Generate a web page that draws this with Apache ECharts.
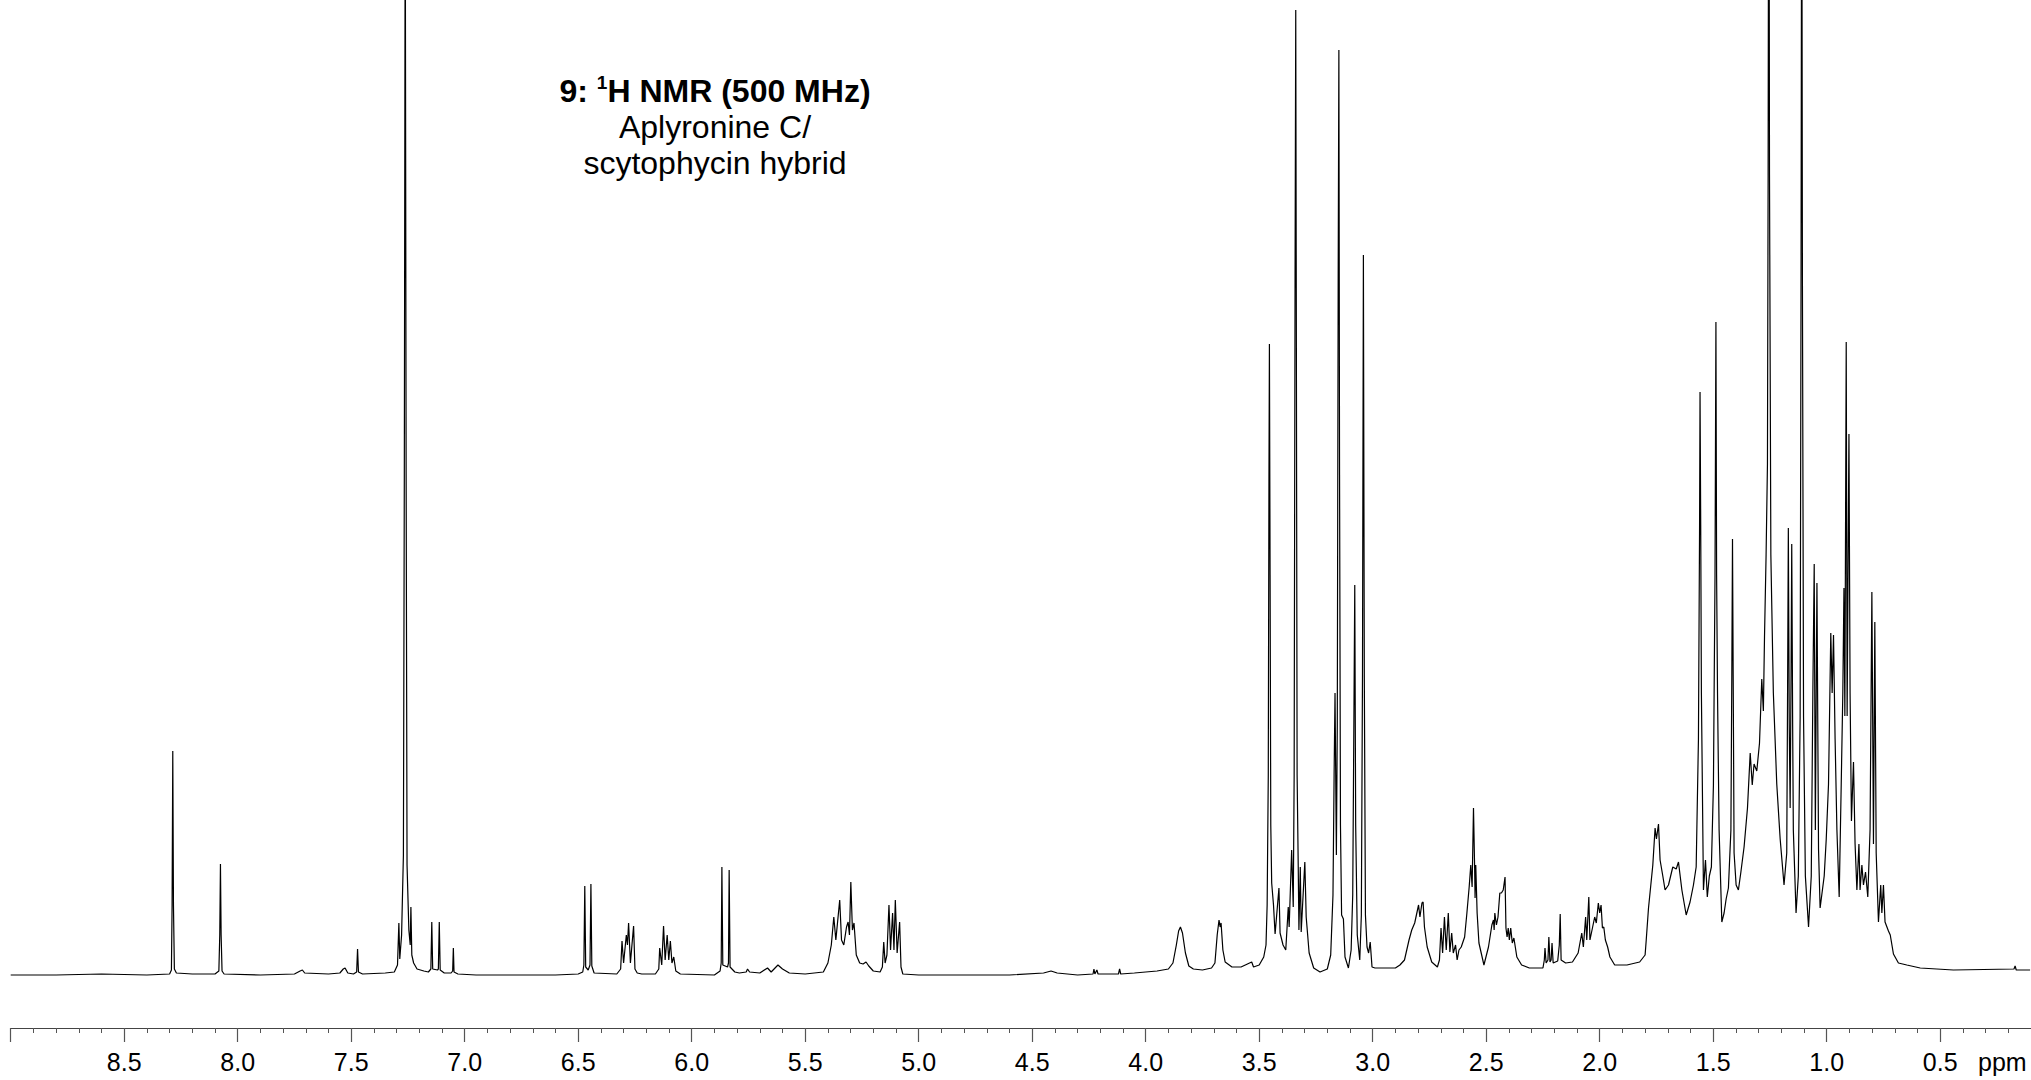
<!DOCTYPE html>
<html>
<head>
<meta charset="utf-8">
<script src="https://cdn.jsdelivr.net/npm/echarts@6/dist/echarts.min.js"></script>
<style>
html,body{margin:0;padding:0;background:#fff;}
#chart{width:2031px;height:1080px;}
</style>
</head>
<body>
<div id="chart"></div>
<script>
// ---- Data: [chemical shift (ppm), intensity (a.u.)] ----
const aromaticTrace = [
  [9.00,0],[8.80,0],[8.60,1],[8.40,0],[8.30,1],[8.292,5],[8.289,70],[8.286,224],[8.283,70],[8.279,6],[8.27,2],
  [8.20,1],[8.10,1],[8.083,4],[8.079,40],[8.076,111],[8.073,40],[8.069,4],[8.06,1],[7.90,0],
  [7.75,1],[7.725,4],[7.715,5],[7.705,2],[7.60,1],[7.55,2],[7.535,6],[7.527,7],[7.515,2],[7.49,1],
  [7.476,3],[7.472,26],[7.468,3],[7.45,1],[7.35,2],[7.31,3],[7.296,10],[7.290,52],[7.286,16],[7.278,40],
  [7.270,120],[7.266,500],[7.262,1100],[7.258,500],[7.254,110],[7.246,45],[7.240,30],[7.237,68],[7.233,20],
  [7.225,12],[7.21,6],[7.18,4],[7.16,3],[7.149,6],[7.145,53],[7.141,6],[7.12,5],[7.116,6],[7.112,53],[7.108,5],
  [7.09,2],[7.06,2],[7.053,4],[7.050,27],[7.047,3],[7.03,1],[6.95,0]
];
const olefinTrace = [
  [6.60,0],[6.50,1],[6.48,3],[6.475,10],[6.471,89],[6.467,8],[6.456,5],[6.448,10],[6.444,91],[6.440,9],[6.43,2],
  [6.33,1],[6.313,6],[6.307,34],[6.300,12],[6.288,40],[6.283,30],[6.278,52],[6.270,12],[6.256,49],[6.250,6],[6.24,2],[6.22,1],
  [6.16,1],[6.145,6],[6.141,27],[6.132,10],[6.124,49],[6.117,15],[6.108,40],[6.101,15],[6.094,34],[6.087,12],[6.079,18],[6.07,4],[6.05,1],
  [5.90,0],[5.875,4],[5.870,12],[5.867,108],[5.863,10],[5.842,8],[5.838,12],[5.835,105],[5.831,8],[5.81,3],[5.79,2],
  [5.76,3],[5.754,6],[5.745,3],[5.70,2],[5.666,7],[5.65,3],[5.62,10],[5.60,6],[5.57,2],[5.50,1],
  [5.42,3],[5.40,12],[5.385,30],[5.374,58],[5.365,35],[5.348,75],[5.340,35],[5.330,30],[5.318,48],[5.311,53],[5.305,40],
  [5.299,93],[5.292,45],[5.285,52],[5.275,20],[5.26,12],[5.245,11],[5.232,13],[5.22,9],[5.20,4],[5.17,3],
  [5.16,8],[5.154,33],[5.148,12],[5.140,20],[5.131,70],[5.124,25],[5.115,62],[5.109,25],[5.103,75],[5.095,22],
  [5.084,53],[5.078,8],[5.07,1],[5.00,0]
];
const midTrace = [
  [4.60,0],[4.45,2],[4.417,4],[4.39,2],[4.30,0],[4.232,1],[4.228,6],[4.224,1],[4.215,5],[4.21,1],[4.12,1],[4.115,6],[4.11,1],
  [4.05,2],[4.00,3],[3.95,4],[3.90,6],[3.88,12],[3.865,30],[3.855,44],[3.847,48],[3.838,42],[3.825,22],[3.81,9],[3.79,6],
  [3.75,5],[3.71,7],[3.695,12],[3.685,40],[3.677,55],[3.672,48],[3.668,52],[3.660,25],[3.65,13],[3.62,8],[3.58,8],
  [3.533,13],[3.525,8],[3.50,10],[3.48,18],[3.47,30],[3.465,70],[3.460,200],[3.457,500],[3.455,631],[3.452,400],
  [3.449,150],[3.445,92],[3.437,70],[3.430,41],[3.413,87],[3.408,42],[3.395,30],[3.383,25],[3.372,68],[3.368,48],
  [3.357,125],[3.350,68],[3.346,200],[3.342,700],[3.339,965],[3.336,600],[3.333,200],[3.328,108],[3.325,45],[3.319,108],
  [3.315,43],[3.299,113],[3.293,58],[3.28,22],[3.26,7],[3.232,3],[3.20,6],[3.185,20],[3.175,80],[3.170,200],[3.166,282],
  [3.160,120],[3.156,250],[3.152,700],[3.149,925],[3.146,500],[3.142,150],[3.137,60],[3.129,56],[3.122,18],[3.107,7],
  [3.095,25],[3.088,80],[3.083,250],[3.079,390],[3.075,150],[3.068,40],[3.057,15],[3.050,60],[3.045,300],[3.041,720],
  [3.037,300],[3.032,60],[3.025,28],[3.018,22],[3.011,33],[3.003,8],[2.99,7]
];
const aliphaticTrace = [
  [2.90,7],[2.88,10],[2.86,15],[2.84,35],[2.828,45],[2.815,52],[2.798,70],[2.792,58],[2.783,72],[2.778,73],[2.772,48],
  [2.76,28],[2.74,13],[2.715,8],[2.706,15],[2.699,47],[2.692,22],[2.684,58],[2.676,25],[2.667,62],[2.660,23],[2.652,42],
  [2.645,22],[2.635,30],[2.628,15],[2.620,25],[2.610,28],[2.595,38],[2.585,62],[2.575,88],[2.568,110],[2.562,88],
  [2.556,167],[2.551,108],[2.549,77],[2.546,110],[2.540,62],[2.532,32],[2.522,22],[2.51,10],[2.49,28],[2.475,50],
  [2.468,55],[2.465,45],[2.462,62],[2.455,50],[2.448,58],[2.440,82],[2.433,82],[2.425,85],[2.417,98],[2.413,47],
  [2.408,38],[2.403,47],[2.398,35],[2.392,47],[2.385,32],[2.378,37],[2.365,18],[2.344,10],[2.31,7],[2.25,7],
  [2.244,15],[2.241,27],[2.236,12],[2.228,15],[2.224,38],[2.219,13],[2.214,15],[2.210,32],[2.205,12],[2.185,14],
  [2.178,30],[2.174,61],[2.170,15],[2.15,12],[2.12,13],[2.095,22],[2.079,42],[2.072,28],[2.062,58],[2.057,35],
  [2.048,78],[2.043,35],[2.032,47],[2.022,58],[2.015,52],[2.006,72],[2.000,62],[1.994,70],[1.988,47],[1.982,48],
  [1.975,35],[1.965,28],[1.955,18],[1.934,10],[1.88,10],[1.824,13],[1.80,20]
];
const upfieldTrace = [
  [1.795,35],[1.785,67],[1.766,110],[1.756,147],[1.750,136],[1.741,151],[1.734,115],[1.722,99],[1.712,85],[1.697,90],
  [1.678,108],[1.663,106],[1.653,113],[1.638,85],[1.619,60],[1.602,73],[1.587,90],[1.575,108],[1.565,236],[1.560,450],
  [1.558,583],[1.555,450],[1.552,282],[1.543,85],[1.534,115],[1.526,78],[1.517,99],[1.508,108],[1.499,190],[1.492,400],
  [1.488,653],[1.485,400],[1.481,282],[1.474,145],[1.462,53],[1.452,62],[1.443,76],[1.433,87],[1.422,145],[1.418,300],
  [1.415,436],[1.412,300],[1.408,122],[1.399,90],[1.389,85],[1.378,103],[1.364,128],[1.349,167],[1.337,222],[1.328,190],
  [1.320,211],[1.308,204],[1.296,232],[1.286,296],[1.279,264],[1.274,338],[1.267,420],[1.261,511],[1.258,800],
  [1.255,1300],[1.252,800],[1.246,420],[1.235,282],[1.220,191],[1.205,136],[1.188,90],[1.176,122],[1.172,300],
  [1.169,447],[1.165,250],[1.161,167],[1.157,300],[1.154,431],[1.150,250],[1.147,145],[1.135,62],[1.125,99],[1.117,258],
  [1.113,700],[1.110,1200],[1.107,700],[1.102,258],[1.094,99],[1.080,48],[1.068,99],[1.061,282],[1.055,411],[1.050,145],
  [1.043,392],[1.036,126],[1.029,67],[1.011,99],[1.002,136],[0.992,191],[0.982,342],[0.976,282],[0.970,340],[0.963,236],
  [0.955,145],[0.945,78],[0.936,191],[0.929,282],[0.924,387],[0.920,259],[0.914,633],[0.910,259],[0.902,541],[0.897,282],
  [0.891,154],[0.882,213],[0.875,131],[0.867,85],[0.858,131],[0.853,85],[0.845,110],[0.838,90],[0.829,103],[0.819,78],
  [0.809,145],[0.801,383],[0.794,131],[0.788,353],[0.782,122],[0.772,53],[0.762,90],[0.757,62],[0.750,90],[0.743,53],
  [0.728,44],[0.720,40],[0.706,21],[0.684,12],[0.647,10],[0.588,7],[0.442,5],[0.175,6],[0.170,9],[0.165,5],[0.104,5]
];

// ---- Axis ticks and labels ----
const labelValues = [8.5, 8.0, 7.5, 7.0, 6.5, 6.0, 5.5, 5.0, 4.5, 4.0, 3.5, 3.0, 2.5, 2.0, 1.5, 1.0, 0.5];
const majorTickValues = [9.0].concat(labelValues);
const minorTickValues = [
  8.9,8.8,8.7,8.6, 8.4,8.3,8.2,8.1, 7.9,7.8,7.7,7.6, 7.4,7.3,7.2,7.1, 6.9,6.8,6.7,6.6,
  6.4,6.3,6.2,6.1, 5.9,5.8,5.7,5.6, 5.4,5.3,5.2,5.1, 4.9,4.8,4.7,4.6, 4.4,4.3,4.2,4.1,
  3.9,3.8,3.7,3.6, 3.4,3.3,3.2,3.1, 2.9,2.8,2.7,2.6, 2.4,2.3,2.2,2.1, 1.9,1.8,1.7,1.6,
  1.4,1.3,1.2,1.1, 0.9,0.8,0.7,0.6, 0.4,0.3,0.2,0.1
];
const axisRange = [0.1, 9.0];
const axisUnit = 'ppm';
const titleLines = ['9: ', '1', 'H NMR (500 MHz)', 'Aplyronine C/', 'scytophycin hybrid'];

const spectrum = [].concat(aromaticTrace, olefinTrace, midTrace, aliphaticTrace, upfieldTrace);

const FONT = '"Liberation Sans", Arial, Helvetica, sans-serif';
const chart = echarts.init(document.getElementById('chart'), null, {renderer: 'svg'});

const baseX = {
  type: 'value',
  inverse: true,
  min: axisRange[0],
  max: axisRange[1],
  position: 'bottom',
  gridIndex: 0,
  splitLine: {show: false},
  minorTick: {show: false},
  minorSplitLine: {show: false}
};

chart.setOption({
  animation: false,
  backgroundColor: '#ffffff',
  grid: {left: 10.7, top: 0, right: 0, bottom: 52, containLabel: false},
  xAxis: [
    Object.assign({}, baseX, {
      axisLine: {show: true, onZero: false, lineStyle: {color: '#444', width: 1}},
      axisTick: {show: true, inside: false, length: 14, customValues: majorTickValues, lineStyle: {color: '#555', width: 1.2}},
      axisLabel: {
        show: true,
        customValues: labelValues,
        margin: 21,
        fontSize: 25,
        fontFamily: FONT,
        color: '#000',
        formatter: function (v) { return Number(v).toFixed(1); }
      }
    }),
    Object.assign({}, baseX, {
      axisLine: {show: false, onZero: false},
      axisTick: {show: true, inside: false, length: 5, customValues: minorTickValues, lineStyle: {color: '#555', width: 1}},
      axisLabel: {show: false}
    })
  ],
  yAxis: {
    type: 'value',
    min: -53,
    max: 975,
    show: false,
    splitLine: {show: false}
  },
  series: [{
    type: 'line',
    xAxisIndex: 0,
    data: spectrum,
    showSymbol: false,
    symbol: 'none',
    clip: true,
    lineStyle: {color: '#000', width: 1.2},
    silent: true
  }],
  graphic: [
    {
      type: 'text', x: 715, y: 91,
      style: {
        text: '{b|' + titleLines[0] + '}{s|' + titleLines[1] + '}{b|' + titleLines[2] + '}',
        align: 'center', verticalAlign: 'middle',
        rich: {
          b: {fontSize: 32, fontWeight: 'bold', fontFamily: FONT, fill: '#000', lineHeight: 37},
          s: {fontSize: 19, fontWeight: 'bold', fontFamily: FONT, fill: '#000', verticalAlign: 'top', lineHeight: 22}
        }
      }
    },
    {
      type: 'text', x: 715, y: 127,
      style: {text: titleLines[3], align: 'center', verticalAlign: 'middle', fontSize: 32, fontFamily: FONT, fill: '#000'}
    },
    {
      type: 'text', x: 715, y: 163,
      style: {text: titleLines[4], align: 'center', verticalAlign: 'middle', fontSize: 32, fontFamily: FONT, fill: '#000'}
    },
    {
      type: 'text', x: 1978, y: 1049,
      style: {text: axisUnit, align: 'left', verticalAlign: 'top', fontSize: 25, fontFamily: FONT, fill: '#000'}
    }
  ]
});
</script>
</body>
</html>
